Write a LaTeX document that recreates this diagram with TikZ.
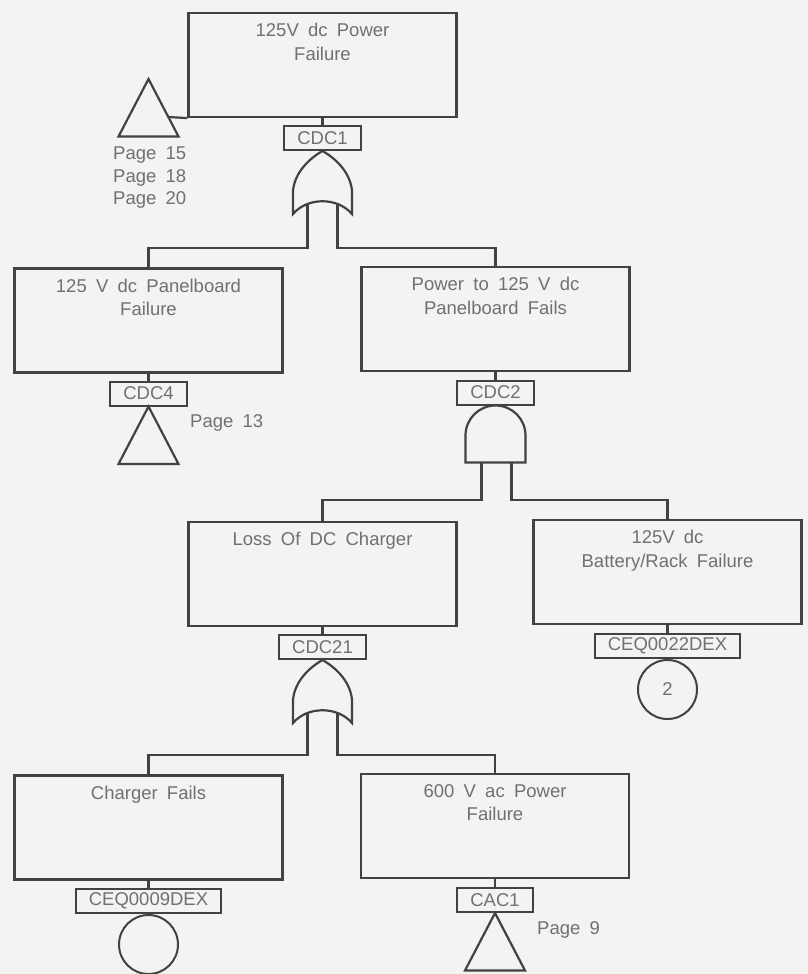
\documentclass[tikz,border=0pt]{standalone}
\usepackage{fontspec}
\setmainfont{Liberation Sans}[WordSpace=1.8]
\usetikzlibrary{calc}

\definecolor{ink}{RGB}{66,66,66}
\definecolor{txt}{RGB}{112,112,112}
\definecolor{paper}{RGB}{243,243,241}

\newcommand{\ftfont}{\fontsize{18.5}{23.5}\selectfont}

\tikzset{
  event/.style={draw, rectangle, minimum width=268pt, minimum height=104pt, inner sep=0pt, line width=2.2pt},
  evtext/.style={anchor=north, align=center, text=txt, font=\ftfont, inner sep=0pt},
  tag/.style={draw, rectangle, minimum height=24pt, inner xsep=13pt, inner ysep=0pt, text=txt, font=\ftfont, line width=2pt},
  basic/.style={draw, circle, minimum size=59pt, inner sep=0pt, text=txt, font=\ftfont, line width=2pt},
  pagenote/.style={anchor=west, text=txt, font=\ftfont, inner sep=0pt},
  wire/.style={line width=2.2pt},
  gate/.style={line width=2.2pt, line join=miter},
  orgate/.pic={
    \draw[gate] (0,0) .. controls (-14,8) and (-28,22) .. (-29.5,40) -- (-29.5,63)
      .. controls (-15,46) and (15,46) .. (29.5,63) -- (29.5,40)
      .. controls (28,22) and (14,8) .. (0,0) -- cycle;
    \coordinate (-inl) at (-15,53);
    \coordinate (-inr) at (15,53);
  },
  andgate/.pic={
    \draw[gate] (-30,30) .. controls (-30,13.4) and (-16.6,0) .. (0,0)
      .. controls (16.6,0) and (30,13.4) .. (30,30) -- (30,57) -- (-30,57) -- cycle;
    \coordinate (-inl) at (-14,57);
    \coordinate (-inr) at (16,57);
  },
  transfer/.pic={
    \draw[gate] (0,0) -- (-30,57.5) -- (30,57.5) -- cycle;
    \coordinate (-side) at (19.8,38);
  }
}

\begin{document}
\begin{tikzpicture}[x=1pt, y=-1pt, color=ink]
  % page
  \fill[paper] (0,0) rectangle (808,974);
  \useasboundingbox (0,0) rectangle (808,974);

  % bus levels of the fault tree
  \coordinate (bus1) at (0,248);
  \coordinate (bus2) at (0,500);
  \coordinate (bus3) at (0,755);

  % ---------- top event ----------
  \node[event] (top) at (322.5,65) {};
  \node[evtext] (toptext) at ($(top.north)+(0,11)$) {125V dc Power\\Failure};
  \node[tag] (cdc1) at (322.5,138) {CDC1};
  \pic (t0) at (148.5,79) {transfer};
  \node[pagenote] (p15) at (113,155) {Page 15};
  \node[pagenote] (p18) at (113,178) {Page 18};
  \node[pagenote] (p20) at (113,200) {Page 20};
  \pic (or1) at (cdc1.south) {orgate};

  % ---------- second level ----------
  \node[event] (pnl) at (148.5,320.5) {};
  \node[evtext] (pnltext) at ($(pnl.north)+(0,11)$) {125 V dc Panelboard\\Failure};
  \node[tag] (cdc4) at (148.5,393.5) {CDC4};
  \pic (t1) at (cdc4.south) {transfer};
  \node[pagenote] (p13) at (190,423) {Page 13};

  \node[event] (pwr) at (495.5,319) {};
  \node[evtext] (pwrtext) at ($(pwr.north)+(0,11)$) {Power to 125 V dc\\Panelboard Fails};
  \node[tag] (cdc2) at (495.5,392.5) {CDC2};
  \pic (and2) at (cdc2.south) {andgate};

  % ---------- third level ----------
  \node[event] (loss) at (322.5,574) {};
  \node[evtext] (losstext) at ($(loss.north)+(0,11)$) {Loss Of DC Charger};
  \node[tag] (cdc21) at (322.5,647) {CDC21};
  \pic (or3) at (cdc21.south) {orgate};

  \node[event] (batt) at (667.5,572) {};
  \node[evtext] (batttext) at ($(batt.north)+(0,11)$) {125V dc\\Battery/Rack Failure};
  \node[tag] (ceq22) at (667.5,646) {CEQ0022DEX};
  \node[basic, anchor=north] (b22) at (ceq22.south) {2};

  % ---------- bottom level ----------
  \node[event] (chg) at (148.5,827.5) {};
  \node[evtext] (chgtext) at ($(chg.north)+(0,11)$) {Charger Fails};
  \node[tag] (ceq09) at (148.5,901) {CEQ0009DEX};
  \node[basic, anchor=north] (b09) at (ceq09.south) {};

  \node[event] (ac) at (495,826) {};
  \node[evtext] (actext) at ($(ac.north)+(0,11)$) {600 V ac Power\\Failure};
  \node[tag] (cac1) at (495,900) {CAC1};
  \pic (t2) at (cac1.south) {transfer};
  \node[pagenote] (p9) at (537,930) {Page 9};

  % ---------- connectors ----------
  \draw[wire] (t0-side) -- (top.south west);
  \draw[wire] (top.south) -- (cdc1.north);
  \draw[wire] (pnl.south) -- (cdc4.north);
  \draw[wire] (pwr.south) -- (cdc2.north);
  \draw[wire] (loss.south) -- (cdc21.north);
  \draw[wire] (batt.south) -- (ceq22.north);
  \draw[wire] (chg.south) -- (ceq09.north);
  \draw[wire] (ac.south) -- (cac1.north);

  \draw[wire] (or1-inl) -- (or1-inl |- bus1) -| (pnl.north);
  \draw[wire] (or1-inr) -- (or1-inr |- bus1) -| (pwr.north);
  \draw[wire] (and2-inl) -- (and2-inl |- bus2) -| (loss.north);
  \draw[wire] (and2-inr) -- (and2-inr |- bus2) -| (batt.north);
  \draw[wire] (or3-inl) -- (or3-inl |- bus3) -| (chg.north);
  \draw[wire] (or3-inr) -- (or3-inr |- bus3) -| (ac.north);
\end{tikzpicture}
\end{document}
